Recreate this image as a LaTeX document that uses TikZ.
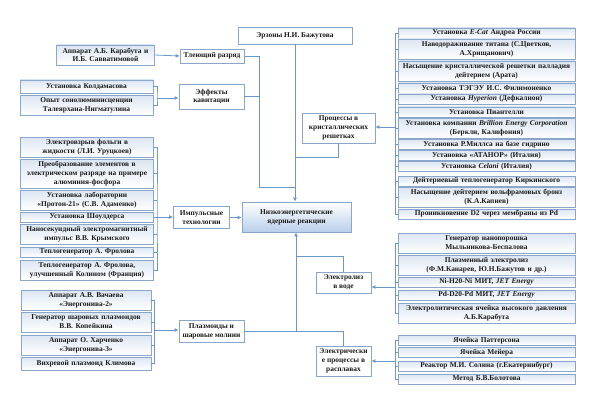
\documentclass[tikz,border=0pt]{standalone}
\usepackage{fontspec}
\setmainfont{Liberation Serif}
\usetikzlibrary{positioning,arrows.meta,calc}
\definecolor{cLine}{HTML}{6A97CC}
\definecolor{cBorder}{HTML}{8AA6CB}
\definecolor{cFill}{HTML}{DCE6F2}
\definecolor{cCore}{HTML}{B9CFEA}
\definecolor{cText}{HTML}{1A1A1A}
\tikzset{
  base/.style={draw=cBorder,line width=0.7pt,align=center,text=cText,
    font=\bfseries\fontsize{7.4}{8.8}\selectfont,inner xsep=1.5pt,inner ysep=1pt},
  item/.style={base,top color=cFill,bottom color=white,minimum height=10pt},
  ritem/.style={item,text width=174pt}, litem/.style={item,text width=130pt},
  hub/.style={base,fill=white},
  core/.style={base,top color=white,bottom color=cCore,minimum width=109pt,minimum height=30pt},
  hh/.style={minimum height=20pt}, hhh/.style={minimum height=29pt},
  line/.style={draw=cLine,line width=0.8pt},
  arr/.style={line,-{Latex[length=4pt,width=4pt]}}}

\begin{document}
\begin{tikzpicture}[x=1pt,y=-1pt]
\useasboundingbox (0,0) rectangle (595,420);
% centre and hubs
\node[core] (lenr) at (296.5,217) {Низкоэнергетические\\ядерные реакции};
\node[hub,minimum width=114pt,minimum height=17pt] (erz) at (295,35.5) {Эрзоны Н.И. Бажутова};
\node[hub,minimum width=64pt,minimum height=14pt] (glow) at (212,56) {Тлеющий разряд};
\node[hub,minimum width=65pt,minimum height=25pt] (kav) at (211.5,96.5) {Эффекты\\кавитации};
\node[hub,minimum width=73pt,minimum height=30pt] (cryst) at (338.5,128) {Процессы в\\кристаллических\\решетках};
\node[hub,minimum width=56pt,minimum height=22pt] (pulse) at (201.5,217.5) {Импульсные\\технологии};
\node[hub,minimum width=55pt,minimum height=21pt] (water) at (343.5,282.5) {Электролиз\\в воде};
\node[hub,minimum width=65pt,minimum height=22pt] (plasm) at (211.5,331) {Плазмоиды и\\шаровые молнии};
\node[hub,minimum width=55pt,minimum height=30pt] (melt) at (343.5,361) {Электрически\\е процессы в\\расплавах};

% left lists
\node[item,text width=95pt,hh] (g1) at (105.5,55) {Аппарат А.Б. Карабута и\\И.Б. Савватимовой};
\node[litem,minimum height=13pt] (c1) at (86.5,86.5) {Установка Колдамасова};
\node[litem,hh] (c2) at (86.5,105.5) {Опыт сонолюминисценции\\Талеярхана-Нигматулина};
\node[litem,hh] (p1) at (87,147) {Электровзрыв фольги в\\жидкости (Л.И. Уруцкоев)};
\node[litem,hhh] (p2) at (87,173.5) {Преобразование элементов в\\электрическом разряде на примере\\алюминия-фосфора};
\node[litem,hh] (p3) at (87,200) {Установка лаборатории\\«Протон-21» (С.В. Адаменко)};
\node[litem] (p4) at (87,217) {Установка Шоулдерса};
\node[litem,hh] (p5) at (87,234) {Наносекундный электромагнитный\\импульс В.В. Крымского};
\node[litem] (p6) at (87,252) {Теплогенератор А. Фролова};
\node[litem,hh] (p7) at (87,270) {Теплогенератор А. Фролова,\\улучшенный Колином (Франция)};
\node[litem,text width=127pt,hh] (m1) at (86,300) {Аппарат А.В. Вачаева\\«Энергонива-2»};
\node[litem,text width=127pt,hh] (m2) at (86,322) {Генератор шаровых плазмоидов\\В.В. Копейкина};
\node[litem,text width=127pt,hh] (m3) at (86,345) {Аппарат О. Харченко\\«Энергонива-3»};
\node[litem,text width=127pt,minimum height=13pt] (m4) at (86,363.5) {Вихревой плазмоид Климова};

% right lists
\node[ritem] (k1) at (486.5,33) {Установка \textit{E-Cat} Андреа России};
\node[ritem,hh] (k2) at (486.5,49) {Наводораживание титана (С.Цветков,\\А.Хрищанович)};
\node[ritem,hh] (k3) at (486.5,71) {Насыщение кристаллической решетки палладия\\дейтерием (Арата)};
\node[ritem] (k4) at (486.5,88) {Установка ТЭГЭУ И.С. Филимоненко};
\node[ritem] (k5) at (486.5,99) {Установка \textit{Hyperion} (Дефкалион)};
\node[ritem] (k6) at (486.5,112) {Установка Пиантелли};
\node[ritem,hh] (k7) at (486.5,128.5) {Установка компании \textit{Brillion Energy Corporation}\\(Беркли, Калифония)};
\node[ritem] (k8) at (486.5,144.5) {Установка Р.Миллса на базе гидрино};
\node[ritem] (k9) at (486.5,155.5) {Установка «АТАНОР» (Италия)};
\node[ritem] (k10) at (486.5,166.5) {Установка \textit{Celani} (Италия)};
\node[ritem] (k11) at (486.5,181) {Дейтериевый теплогенератор Киркинского};
\node[ritem,hh] (k12) at (486.5,197) {Насыщение дейтерием вольфрамовых бронз\\(К.А.Капиев)};
\node[ritem] (k13) at (486.5,214) {Проникновение D2 через мембраны из Pd};
\node[ritem,hh] (w1) at (486.5,243) {Генератор нанопорошка\\Мыльникова-Беспалова};
\node[ritem,hh] (w2) at (486.5,265) {Плазменный электролиз\\(Ф.М.Канарев, Ю.Н.Бажутов и др.)};
\node[ritem] (w3) at (486.5,282) {Ni-H20-Ni МИТ, \textit{JET Energy}};
\node[ritem] (w4) at (486.5,295) {Pd-D20-Pd МИТ, \textit{JET Energy}};
\node[ritem,hh] (w5) at (486.5,313) {Электролитическая ячейка высокого давления\\А.Б.Карабута};
\node[ritem] (s1) at (486.5,340.5) {Ячейка Паттерсона};
\node[ritem] (s2) at (486.5,352.5) {Ячейка Мейера};
\node[ritem] (s3) at (486.5,366) {Реактор М.И. Солина (г.Екатеринбург)};
\node[ritem] (s4) at (486.5,379) {Метод Б.В.Болотова};

% joints
\coordinate (jt) at (259,187);
\coordinate (jc) at (296,187);
\coordinate (jk) at (296,157);
\coordinate (je) at (296,256);
\coordinate (jb) at (296,331);
\coordinate (bk) at (395.5,127);
\coordinate (bw) at (395.5,287);
\coordinate (bs) at (395.5,361);
\coordinate (bc) at (157,98);
\coordinate (bp) at (157,217);
\coordinate (bm) at (154.5,330);

% upper branch
\draw[arr] (erz.south) -- (erz.south |- lenr.north);
\draw[line] (glow.east) -| (jt) -- (jc);
\draw[line] (kav.east) -- (kav.east -| jt);
\draw[line] (cryst.south) |- (jk);
\draw[arr] (g1.east) -- (glow.west);
\draw[arr] (bc) -- (kav.west |- bc);
\draw[arr] (pulse.east) -- (lenr.west |- pulse.east);
\draw[arr] (bp) -- (pulse.west |- bp);
% lower branch
\draw[arr] (jb) -- (jb |- lenr.south);
\draw[line] (plasm.east) -| (melt.north);
\draw[line] (water.north) |- (je);
\draw[arr] (bm) -- (plasm.west |- bm);
\draw[arr] (bk) -- (cryst.east |- bk);
\draw[arr] (bw) -- (water.east |- bw);
\draw[arr] (bs) -- (melt.east |- bs);

% brackets
\draw[line] (c1.east) -| (bc) |- (c2.east);
\draw[line] (p1.east) -| (bp) |- (p7.east);
\foreach \i in {2,...,6} \draw[line] (p\i.east) -- (p\i.east -| bp);
\draw[line] (m1.east) -| (bm) |- (m4.east);
\foreach \i in {2,3} \draw[line] (m\i.east) -- (m\i.east -| bm);
\draw[line] (k1.west) -| (bk) |- (k13.west);
\foreach \i in {2,...,12} \draw[line] (k\i.west) -- (k\i.west -| bk);
\draw[line] (w1.west) -| (bw) |- (w5.west);
\foreach \i in {2,3,4} \draw[line] (w\i.west) -- (w\i.west -| bw);
\draw[line] (s1.west) -| (bs) |- (s4.west);
\foreach \i in {2,3} \draw[line] (s\i.west) -- (s\i.west -| bs);
\end{tikzpicture}
\end{document}
